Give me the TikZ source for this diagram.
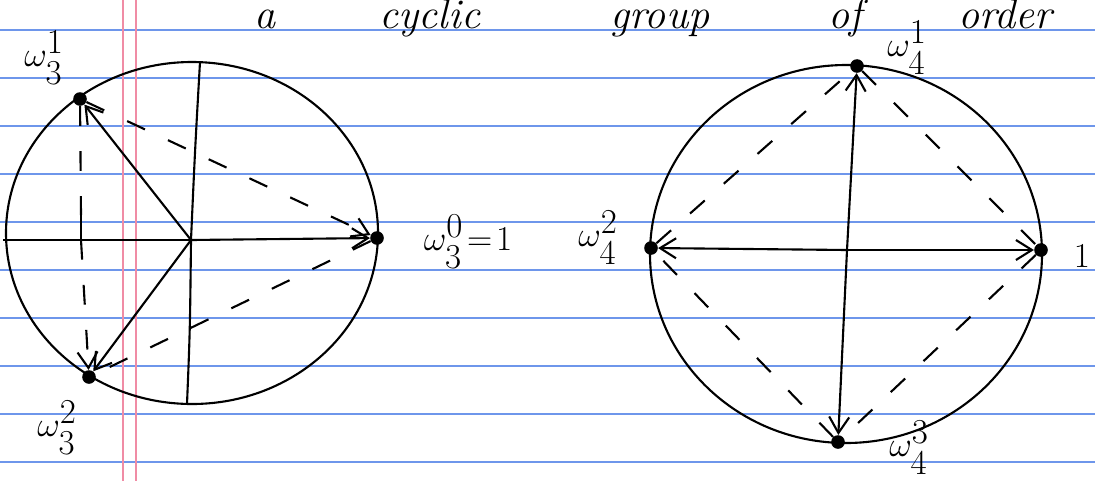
\documentclass[tikz,border=0pt]{standalone}
\usepackage{amsmath,amssymb}
\usepackage{tikz}
\usetikzlibrary{arrows.meta}
\definecolor{ruleblue}{RGB}{110,150,235}
\definecolor{marginred}{RGB}{240,140,165}

\begin{document}
\begin{tikzpicture}[
    x=0.025cm, y=-0.025cm,
    pt/.style={circle, fill, inner sep=0pt, minimum size=0.34cm},
    lbl/.style={font=\fontsize{38}{42}\selectfont},
    word/.style={anchor=base, font=\fontsize{30}{34}\selectfont\itshape},
    rim/.style={line width=1.5pt},
    ray/.style={line width=1.5pt, ->},
    chord/.style={line width=1.5pt, dash pattern=on 14pt off 18pt},
    rule/.style={ruleblue, line width=0.8pt},
    margin/.style={marginred, line width=0.9pt},
    >={Straight Barb[length=4mm,width=5mm]}
  ]
    \useasboundingbox (0,0) rectangle (1095,481);
    \fill[white] (0,0) rectangle (1095,481);
    \foreach \yy in {30,78,...,462}
      \draw[rule] (0,\yy) -- (1095,\yy);
    \draw[margin] (123,0) -- (123,481);
    \draw[margin] (136,0) -- (136,481);

    \node[word] (ta) at (265,28) {a};
    \node[word] (tcyclic) at (430,28) {cyclic};
    \node[word] (tgroup) at (660,28) {group};
    \node[word] (tof) at (845,28) {of};
    \node[word] (torder) at (1005,28) {order};

    % order 3
    \draw[rim] (192,233) ellipse[x radius=186, y radius=171];
    \coordinate (c3) at (191,240);
    \coordinate (top3) at (200,62);
    \coordinate (bot3) at (187,404);
    \coordinate (left3) at (3,240);
    \coordinate (tick3) at (81,240);
    \coordinate (tickup3) at (81,215);
    \node[pt] (w30) at (377,238) {};
    \node[pt] (w31) at (80,99) {};
    \node[pt] (w32) at (89,377) {};

    \draw[rim] (top3) .. controls (195,150) .. (c3) .. controls (190,330) .. (bot3);
    \draw[rim] (left3) -- (c3);
    \draw[ray] (c3) -- (w30);
    \draw[ray] (c3) -- (w31);
    \draw[ray] (c3) -- (w32);
    \draw[chord] (w31) -- (tickup3);
    \draw[rim] (tickup3) -- (tick3);
    \draw[chord, ->] (tick3) -- (w32);
    \draw[chord, ->] (w31) -- (w30);
    \draw[chord] (w30) -- (w32);

    \node[lbl] (l31) at (44,58) {$\omega_3^1$};
    \node[lbl] (l32) at (57,428) {$\omega_3^2$};
    \node[lbl] (l30) at (468,242) {$\omega_3^0\!=\!1$};

    % order 4
    \draw[rim] (846,254) ellipse[x radius=196, y radius=189];
    \coordinate (c4) at (847,250);
    \node[pt] (w40) at (1041,250) {};
    \node[pt] (w41) at (857,66) {};
    \node[pt] (w42) at (651,248) {};
    \node[pt] (w43) at (838,442) {};

    \draw[ray] (c4) -- (w40);
    \draw[ray] (c4) -- (w41);
    \draw[ray] (c4) -- (w42);
    \draw[ray] (c4) -- (w43);
    \draw[chord] (w41) -- (w40);
    \draw[chord] (w40) -- (w43);
    \draw[chord] (w43) -- (w42);
    \draw[chord] (w42) -- (w41);

    \node[lbl] (l41) at (907,48) {$\omega_4^1$};
    \node[lbl] (l42) at (598,238) {$\omega_4^2$};
    \node[lbl] (l43) at (909,448) {$\omega_4^3$};
    \node[lbl] (l40) at (1082,256) {$1$};
  \end{tikzpicture}
\end{document}
